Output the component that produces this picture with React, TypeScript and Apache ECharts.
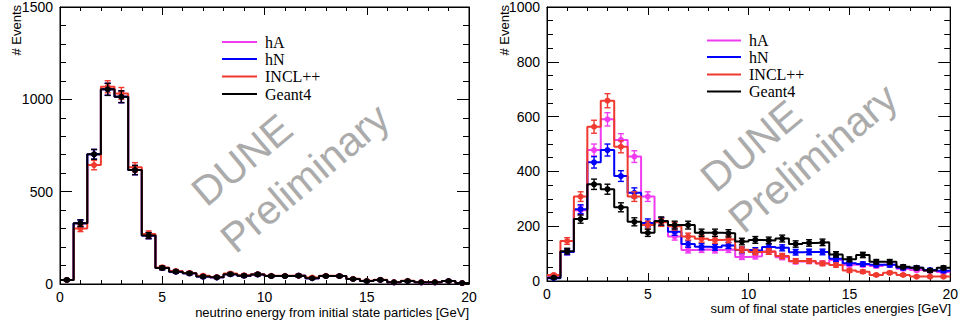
import React, { useEffect, useRef } from "react";
import * as echarts from "echarts";

// ---- binning (30 bins, 0..20 GeV) ----
const X_MIN = 0;
const X_MAX = 20;
const N_BINS = 30;
const X_TICK_STEP = 5;

// ---- left panel: neutrino energy from initial state particles ----
const LEFT_Y_MAX = 1500;
const LEFT_Y_STEP = 500;
const LEFT_GEANT4 = [22, 329, 702, 1054, 1014, 617, 262, 87, 67, 58, 40, 36, 53, 45, 52, 43, 43, 45, 31, 43, 43, 27, 16, 22, 9, 16, 9, 9, 16, 5];
const LEFT_INCL = [22, 301, 644, 1068, 1032, 632, 271, 90, 70, 60, 45, 38, 57, 47, 53, 44, 44, 45, 35, 44, 43, 28, 17, 23, 10, 17, 10, 10, 16, 5];
const LEFT_HN = [22, 329, 702, 1054, 1014, 617, 262, 87, 67, 58, 40, 36, 53, 45, 52, 43, 43, 45, 31, 43, 43, 27, 16, 22, 9, 16, 9, 9, 16, 5];
const LEFT_HA = [22, 329, 702, 1054, 1014, 617, 262, 87, 67, 58, 40, 36, 53, 45, 52, 43, 43, 45, 31, 43, 43, 27, 16, 22, 9, 16, 9, 9, 16, 5];

// ---- right panel: sum of final state particles energies ----
const RIGHT_Y_MAX = 1000;
const RIGHT_Y_STEP = 200;
const RIGHT_GEANT4 = [12, 109, 226, 353, 335, 269, 216, 176, 219, 204, 204, 176, 176, 174, 144, 150, 148, 155, 135, 139, 141, 97, 79, 95, 70, 70, 52, 48, 38, 48];
const RIGHT_INCL = [22, 146, 308, 563, 658, 490, 308, 204, 214, 200, 162, 154, 150, 152, 114, 106, 108, 91, 73, 73, 64, 58, 38, 34, 22, 30, 22, 16, 16, 16];
const RIGHT_HN = [10, 106, 262, 433, 478, 383, 322, 212, 217, 180, 135, 125, 123, 130, 113, 111, 124, 121, 105, 106, 106, 81, 65, 62, 59, 59, 48, 48, 40, 37];
const RIGHT_HA = [18, 106, 258, 478, 590, 515, 454, 308, 215, 162, 113, 115, 113, 115, 88, 90, 108, 87, 71, 72, 65, 77, 59, 59, 55, 59, 45, 40, 37, 33];

const SERIES_NAMES = ["hA", "hN", "INCL++", "Geant4"];
const COLORS = ["#f03cf0", "#0000ff", "#f03a30", "#000000"];

const LEFT_X_TITLE = "neutrino energy from initial state particles [GeV]";
const RIGHT_X_TITLE = "sum of final state particles energies [GeV]";
const Y_TITLE = "# Events";
const WATERMARK = ["DUNE", "Preliminary"];

const BIN_W = (X_MAX - X_MIN) / N_BINS;

function stepData(values: number[]) {
  const pts: number[][] = values.map((v, i) => [X_MIN + i * BIN_W, v]);
  pts.push([X_MAX, values[values.length - 1]]);
  return pts;
}

function errData(values: number[]) {
  return values.map((v, i) => [X_MIN + (i + 0.5) * BIN_W, v, Math.sqrt(v)]);
}

function makeRenderErr(color: string) {
  return (params: any, api: any) => {
    const x = api.value(0);
    const v = api.value(1);
    const e = api.value(2);
    const top = api.coord([x, v + e]);
    const bot = api.coord([x, Math.max(v - e, 0)]);
    const c = api.coord([x, v]);
    const cap = 3;
    const st = { stroke: color, lineWidth: 1.4 };
    return {
      type: "group",
      children: [
        { type: "line", shape: { x1: top[0], y1: top[1], x2: bot[0], y2: bot[1] }, style: st },
        { type: "line", shape: { x1: top[0] - cap, y1: top[1], x2: top[0] + cap, y2: top[1] }, style: st },
        { type: "line", shape: { x1: bot[0] - cap, y1: bot[1], x2: bot[0] + cap, y2: bot[1] }, style: st },
        { type: "circle", shape: { cx: c[0], cy: c[1], r: 3 }, style: { fill: color } },
      ],
    };
  };
}

const FONT = "'Liberation Sans', Arial, Helvetica, sans-serif";
const SERIF = "'Liberation Serif', 'Times New Roman', serif";
const plain = (v: number) => String(v);

function xAxisPair(gridIndex: number) {
  const base = {
    type: "value",
    gridIndex,
    min: X_MIN,
    max: X_MAX,
    interval: X_TICK_STEP,
    splitLine: { show: false },
    axisLine: { show: true, onZero: false, lineStyle: { color: "#000", width: 1 } },
    axisTick: { show: true, inside: true, length: 8, lineStyle: { color: "#000", width: 1 } },
    minorTick: { show: true, splitNumber: 5, length: 4, lineStyle: { color: "#000", width: 1 } },
  };
  return [
    { ...base, position: "bottom", axisLabel: { show: true, margin: 6, color: "#000", fontSize: 14, fontFamily: FONT, formatter: plain } },
    { ...base, position: "top", axisLabel: { show: false } },
  ];
}

function yAxisPair(gridIndex: number, max: number, step: number, minorSplit: number) {
  const base = {
    type: "value",
    gridIndex,
    min: 0,
    max,
    interval: step,
    splitLine: { show: false },
    axisLine: { show: true, onZero: false, lineStyle: { color: "#000", width: 1 } },
    axisTick: { show: true, inside: true, length: 12, lineStyle: { color: "#000", width: 1 } },
    minorTick: { show: true, splitNumber: minorSplit, length: 6, lineStyle: { color: "#000", width: 1 } },
  };
  return [
    { ...base, position: "left", axisLabel: { show: true, margin: 7, color: "#000", fontSize: 14, fontFamily: FONT, formatter: plain } },
    { ...base, position: "right", axisLabel: { show: false } },
  ];
}

function panelSeries(sets: number[][], xIdx: number, yIdx: number) {
  const out: any[] = [];
  sets.forEach((vals, k) => {
    out.push({
      type: "line",
      name: SERIES_NAMES[k],
      xAxisIndex: xIdx,
      yAxisIndex: yIdx,
      step: "end",
      showSymbol: false,
      symbol: "none",
      data: stepData(vals),
      lineStyle: { color: COLORS[k], width: 2 },
      itemStyle: { color: COLORS[k] },
      z: 2 + k,
    });
    out.push({
      type: "custom",
      name: SERIES_NAMES[k] + " err",
      xAxisIndex: xIdx,
      yAxisIndex: yIdx,
      renderItem: makeRenderErr(COLORS[k]),
      encode: { x: 0, y: 1 },
      data: errData(vals),
      z: 2 + k,
    });
  });
  return out;
}

function legendGraphics(x1: number, x2: number, tx: number, ys: number[]) {
  const els: any[] = [];
  SERIES_NAMES.forEach((name, k) => {
    els.push({
      type: "line",
      shape: { x1, y1: ys[k], x2, y2: ys[k] },
      style: { stroke: COLORS[k], lineWidth: 2 },
    });
    els.push({
      type: "text",
      x: tx,
      y: ys[k],
      style: { text: name, fill: "#000", font: `16px ${SERIF}`, textAlign: "left", textVerticalAlign: "middle" },
    });
  });
  return els;
}

function watermark(cx1: number, cy1: number, cx2: number, cy2: number) {
  const rot = (40 * Math.PI) / 180;
  return [
    {
      type: "text",
      x: cx1,
      y: cy1,
      rotation: rot,
      style: { text: WATERMARK[0], fill: "#ababab", font: `41px ${FONT}`, textAlign: "center", textVerticalAlign: "middle" },
      z: 1,
    },
    {
      type: "text",
      x: cx2,
      y: cy2,
      rotation: rot,
      style: { text: WATERMARK[1], fill: "#ababab", font: `41px ${FONT}`, textAlign: "center", textVerticalAlign: "middle" },
      z: 1,
    },
  ];
}

export default function App() {
  const ref = useRef<HTMLDivElement>(null);
  useEffect(() => {
    document.body.style.margin = "0";
    if (!ref.current) return;
    const chart = echarts.init(ref.current, undefined, { renderer: "svg" });
    const option: any = {
      animation: false,
      backgroundColor: "#fff",
      grid: [
        { left: 60, top: 7, width: 409, height: 277, show: true, borderColor: "#000", borderWidth: 1, backgroundColor: "transparent" },
        { left: 547, top: 7, width: 404, height: 274, show: true, borderColor: "#000", borderWidth: 1, backgroundColor: "transparent" },
      ],
      xAxis: [...xAxisPair(0), ...xAxisPair(1)],
      yAxis: [...yAxisPair(0, LEFT_Y_MAX, LEFT_Y_STEP, 5), ...yAxisPair(1, RIGHT_Y_MAX, RIGHT_Y_STEP, 4)],
      series: [
        ...panelSeries([LEFT_HA, LEFT_HN, LEFT_INCL, LEFT_GEANT4], 0, 0),
        ...panelSeries([RIGHT_HA, RIGHT_HN, RIGHT_INCL, RIGHT_GEANT4], 2, 2),
      ],
      graphic: [
        ...watermark(242, 160, 305, 178),
        ...watermark(751, 146, 813, 158),
        ...legendGraphics(222, 257, 265, [42, 59, 76.5, 94]),
        ...legendGraphics(707, 741, 749, [40.5, 57, 74.5, 91.5]),
        {
          type: "text",
          x: 469,
          y: 312,
          style: { text: LEFT_X_TITLE, fill: "#000", font: `13px ${FONT}`, textAlign: "right", textVerticalAlign: "middle" },
        },
        {
          type: "text",
          x: 951,
          y: 308,
          style: { text: RIGHT_X_TITLE, fill: "#000", font: `13px ${FONT}`, textAlign: "right", textVerticalAlign: "middle" },
        },
        {
          type: "text",
          x: 16,
          y: 5,
          rotation: Math.PI / 2,
          style: { text: Y_TITLE, fill: "#000", font: `13px ${FONT}`, textAlign: "right", textVerticalAlign: "middle" },
        },
        {
          type: "text",
          x: 504,
          y: 5,
          rotation: Math.PI / 2,
          style: { text: Y_TITLE, fill: "#000", font: `13px ${FONT}`, textAlign: "right", textVerticalAlign: "middle" },
        },
      ],
    };
    chart.setOption(option);
    return () => chart.dispose();
  }, []);
  return <div ref={ref} style={{ width: 961, height: 327 }} />;
}
